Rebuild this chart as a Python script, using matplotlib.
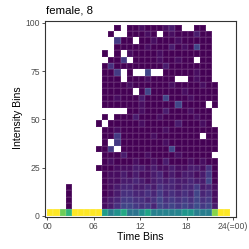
import numpy as np
import matplotlib
matplotlib.use('Agg')
import matplotlib.pyplot as plt

plt.rcParams['font.family'] = ['Liberation Sans', 'DejaVu Sans']

title = 'female, 8'
time_ticks = [0, 6, 12, 18, 24]
time_labels = ['00', '06', '12', '18', '24(=00)']
intensity_ticks = [0, 25, 50, 75, 100]
n_bins = 30
time_max = 23.67
intensity_max = 99

# lowest intensity bin, colour level per time bin (0..1 of viridis)
bottom_row = [1.0, 1.0, 0.78, 0.66, 1.0, 1.0, 1.0, 1.0, 1.0,
              0.55, 0.42, 0.5, 0.6, 0.38, 0.38, 0.48, 0.58, 0.43, 0.43, 0.44,
              0.43, 0.45, 0.52, 0.52, 0.42, 0.42, 0.42, 0.82, 1.0, 1.0]

# upper intensity bins, top row first; '.' = no data, digit d = level d/30
rows = [
    "........." + "..0.001000120..00.." + "..",
    "........." + ".0..00010.01000200." + "..",
    "........." + "..500.001000100000." + "..",
    "........." + "..0000010002010600." + "..",
    "........." + "0.0.10000100000000." + "..",
    "........." + ".005.0000100100.00." + "..",
    "........." + "040000000020000000." + "..",
    "........." + "005.0..6..00000100." + "..",
    "........." + "000.00010000..0100." + "..",
    "........." + "0000100000010000100" + "..",
    "........." + "00000.0600000100000" + "..",
    "........." + "0010002000600010000" + "..",
    "........." + "00000010000060000.0" + "..",
    "........." + "....00100020001000." + "..",
    "........." + "0.0002000100000100." + "..",
    "........0" + ".00000100000200010." + "..",
    "........." + "0010000000100000000" + "..",
    "........." + "0050000010000000.00" + "..",
    "........." + "0.50000000100000000" + "..",
    "........0" + "05.0000000060000000" + "..",
    "........." + "000200010000100000." + "..",
    "........." + "0100010010200010100" + "..",
    "........0" + "0011122121121122140" + "..",
    "........." + "0112121123121221250" + "..",
    "........." + "0112232123232232260" + "..",
    "...0....." + "0123322324332335231" + "..",
    "...0....." + "0124433435343436341" + "..",
    "...0....." + "1235544346454546451" + "..",
    "...0....." + "1246654536565657562" + "..",
]

z = np.full((n_bins, n_bins), np.nan)
z[0, :] = bottom_row
for i, s in enumerate(rows):
    assert len(s) == n_bins, (i, len(s))
    r = n_bins - 1 - i
    for c, ch in enumerate(s):
        if ch != '.':
            z[r, c] = int(ch) / 30

xedges = np.linspace(0, time_max, n_bins + 1)
yedges = np.linspace(0, intensity_max, n_bins + 1)

fig = plt.figure(figsize=(2.49, 2.49), dpi=100)
ax = fig.add_axes([45 / 249, 1 - 217 / 249, 191 / 249, 196 / 249])
ax.pcolormesh(xedges, yedges, np.ma.masked_invalid(z), cmap='viridis',
              vmin=0, vmax=1, edgecolors=(1, 1, 1, 0.07), linewidth=0.3)

ax.set_xlim(-0.3, 24.4)
ax.set_ylim(-0.6, 100.9)
ax.set_xticks(time_ticks)
ax.set_xticklabels(time_labels)
ax.set_yticks(intensity_ticks)
for sp in ax.spines.values():
    sp.set_color('#333333')
    sp.set_linewidth(0.8)
ax.tick_params(length=2.2, width=0.6, color='#333333', labelcolor='#4D4D4D',
               labelsize=6.2, pad=1.5)

ax.set_xlabel('Time Bins', fontsize=7.6, va='center')
ax.xaxis.set_label_coords(0.5, -0.104)
ax.set_ylabel('Intensity Bins', fontsize=7.6, va='center')
ax.yaxis.set_label_coords(-0.14, 0.505)
fig.text(46 / 249, 1 - 10 / 249, title, fontsize=8.2, va='center', ha='left')

fig.savefig('out.png', dpi=100)
